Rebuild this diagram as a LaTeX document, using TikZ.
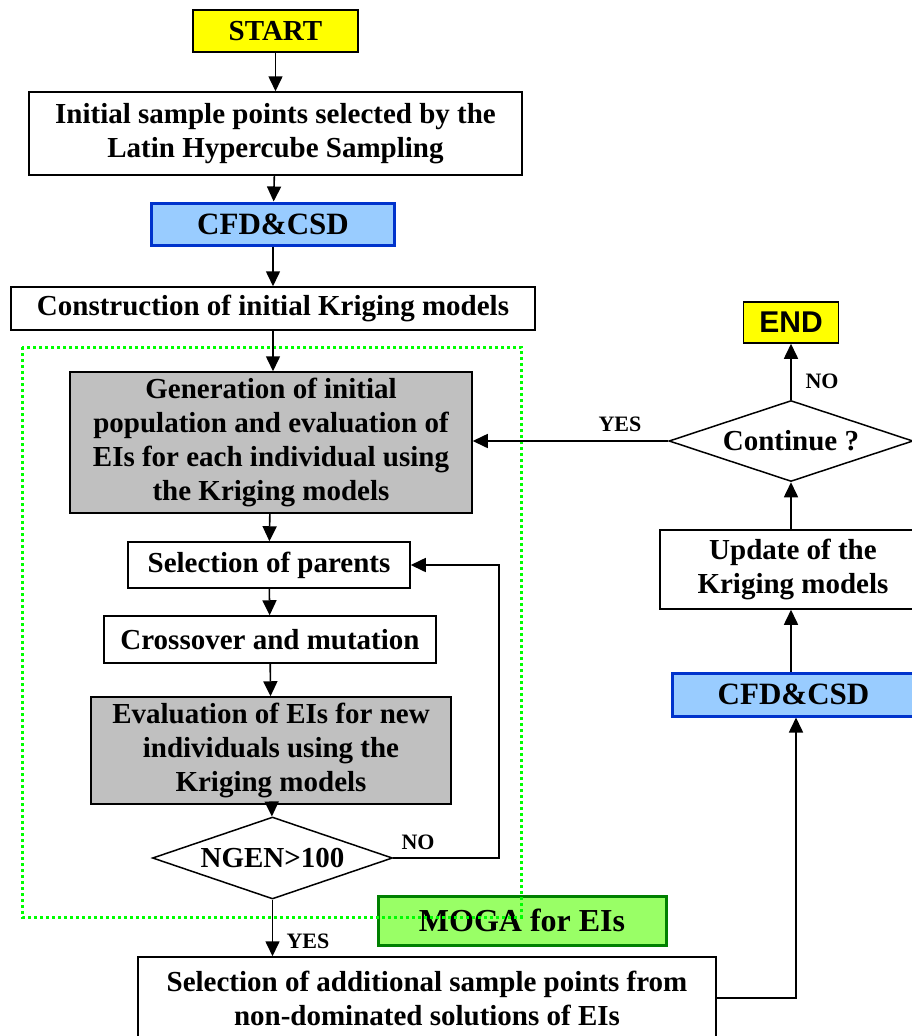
\documentclass[tikz,border=0pt]{standalone}
\usepackage{fontspec}
\setmainfont{Liberation Serif}
\newfontfamily\endfont{Liberation Sans}
\usetikzlibrary{shapes.geometric,arrows.meta}
\definecolor{startyellow}{HTML}{FFFF00}
\definecolor{cfdfill}{HTML}{99CCFF}
\definecolor{cfddraw}{HTML}{0033CC}
\definecolor{evalgray}{HTML}{C0C0C0}
\definecolor{mogafill}{HTML}{99FF66}
\definecolor{mogadraw}{HTML}{008000}
\definecolor{loopgreen}{HTML}{00FF00}

\begin{document}
\begin{tikzpicture}[x=1pt, y=-1pt,
  pbox/.style={draw=black, line width=1.5pt, align=center, inner sep=0pt,
               font=\fontsize{29}{34}\selectfont\bfseries},
  termbox/.style={pbox, fill=startyellow},
  cfdbox/.style={pbox, fill=cfdfill, draw=cfddraw, line width=3pt,
                 font=\fontsize{31}{34}\selectfont\bfseries},
  greybox/.style={pbox, fill=evalgray},
  decision/.style={pbox, diamond, aspect=2.9},
  mogabox/.style={pbox, fill=mogafill, draw=mogadraw, line width=3pt,
                  font=\fontsize{32}{34}\selectfont\bfseries},
  lbl/.style={font=\fontsize{22}{24}\selectfont\bfseries, inner sep=0pt},
  arrow/.style={-{Triangle[length=15pt, width=14pt]}, line width=1.6pt, color=black}
]
\clip (0,0) rectangle (912,1036);

% main column
\node[termbox, minimum width=165pt, minimum height=42pt] (start) at (275.5,31) {START};
\node[pbox, minimum width=493pt, minimum height=83pt] (init) at (275.5,133.5)
  {Initial sample points selected by the\\Latin Hypercube Sampling};
\node[cfdbox, minimum width=243pt, minimum height=42pt] (cfda) at (273,224) {CFD\&CSD};
\node[pbox, minimum width=524pt, minimum height=43pt] (constr) at (273,308.5)
  {Construction of initial Kriging models};
\node[greybox, minimum width=402pt, minimum height=141pt] (gen) at (271,442.5)
  {Generation of initial\\population and evaluation of\\EIs for each individual using\\the Kriging models};
\node[pbox, minimum width=282pt, minimum height=46pt] (parents) at (269,565) {Selection of parents};
\node[pbox, minimum width=332pt, minimum height=47pt] (cross) at (270,639.5) {Crossover and mutation};
\node[greybox, minimum width=360pt, minimum height=107pt] (evalei) at (271,750.5)
  {Evaluation of EIs for new\\individuals using the\\Kriging models};
\node[decision, minimum width=240pt, minimum height=82pt] (ngen) at (272.5,858) {NGEN>100};
\node[mogabox, minimum width=288pt, minimum height=49pt] (moga) at (522,920.5) {MOGA for EIs};
\node[pbox, minimum width=578pt, minimum height=82pt] (addsel) at (427,998)
  {Selection of additional sample points from\\non-dominated solutions of EIs};

% right column
\node[cfdbox, minimum width=243pt, minimum height=43pt] (cfdb) at (793.5,694.5) {CFD\&CSD};
\node[pbox, minimum width=266pt, minimum height=79pt] (update) at (793,569.5)
  {Update of the\\Kriging models};
\node[decision, minimum width=244pt, minimum height=81pt] (cont) at (791,441) {Continue ?};
\node[termbox, minimum width=95pt, minimum height=41pt,
      font=\fontsize{30}{34}\selectfont\endfont\bfseries] (endn) at (791,322.5) {END};

% MOGA loop region
\draw[loopgreen, line width=3pt, dash pattern=on 3pt off 3pt] (22,347) rectangle (521,917);

\coordinate (loopr) at (499,858);
\coordinate (yesr) at (796,998);

\draw[arrow] (start) -- (init);
\draw[arrow] (init) -- (cfda);
\draw[arrow] (cfda) -- (constr);
\draw[arrow] (constr.south) -- (constr.south |- gen.north);
\draw[arrow] (gen) -- (parents);
\draw[arrow] (parents) -- (cross);
\draw[arrow] (cross) -- (evalei);
\draw[arrow] (evalei) -- (ngen);
\draw[arrow] (ngen.south) -- (ngen.south |- addsel.north);
\draw[arrow] (ngen.east) -- (loopr) |- (parents.east);
\draw[arrow] (addsel.east |- yesr) -- (yesr) -- (yesr |- cfdb.south);
\draw[arrow] (cfdb.north -| cont.south) -- (update.south -| cont.south);
\draw[arrow] (update.north -| cont.south) -- (cont.south);
\draw[arrow] (cont) -- (endn);
\draw[arrow] (cont.west) -- (gen.east |- cont.west);

\node[lbl] (nolo) at (418,842) {NO};
\node[lbl] (yeslo) at (308,941) {YES};
\node[lbl] (nohi) at (822,381) {NO};
\node[lbl] (yeshi) at (620,424) {YES};
\end{tikzpicture}
\end{document}
